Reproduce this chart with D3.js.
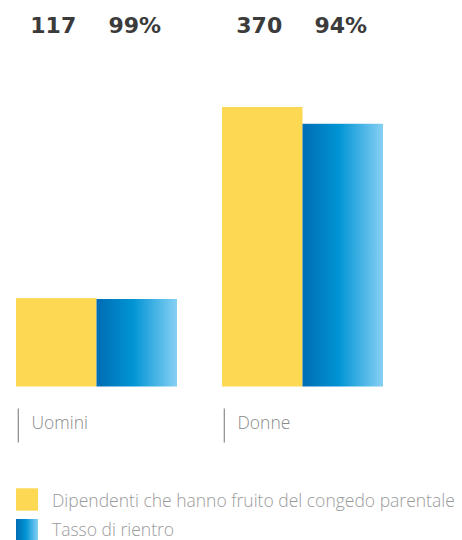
<!DOCTYPE html>
<html>
<head>
<meta charset="utf-8">
<script src="https://cdn.jsdelivr.net/npm/d3@7"></script>
<style>
  html, body { margin: 0; padding: 0; background: #fff; }
  svg { display: block; }
</style>
</head>
<body>
<svg id="chart" width="462" height="540"></svg>
<script>
// Parental leave: employees who took leave and return rate, by gender
const categories = ["Uomini", "Donne"];
const leaveCounts = [117, 370];          // Dipendenti che hanno fruito del congedo parentale
const returnRates = [99, 94];            // Tasso di rientro (%)
const seriesNames = ["Dipendenti che hanno fruito del congedo parentale", "Tasso di rientro"];

// Returners = leave takers × return rate, drawn on the same scale
const returners = leaveCounts.map((c, i) => c * returnRates[i] / 100);

const svg = d3.select("#chart");
const baseline = 386.5;

const defs = svg.append("defs");
const grad = defs.append("linearGradient")
  .attr("id", "blueGrad").attr("x1", "0%").attr("x2", "100%").attr("y1", "0%").attr("y2", "0%");
grad.append("stop").attr("offset", "0%").attr("stop-color", "#006cb4");
grad.append("stop").attr("offset", "45%").attr("stop-color", "#0094d4");
grad.append("stop").attr("offset", "100%").attr("stop-color", "#86d0f4");

const yellow = "#fdd853";

const x0 = d3.scaleBand().domain(categories).range([16, 383]).paddingInner(0.2184).paddingOuter(0);
const x1 = d3.scaleBand().domain(["count", "rate"]).range([0, x0.bandwidth()]).padding(0);
const y = d3.scaleLinear().domain([0, 370]).range([baseline, 107]);

const groups = svg.selectAll("g.group")
  .data(categories.map((c, i) => ({ cat: c, count: leaveCounts[i], ret: returners[i], rate: returnRates[i] })))
  .join("g")
  .attr("class", "group")
  .attr("transform", d => `translate(${x0(d.cat)},0)`);

groups.append("rect")
  .attr("x", x1("count")).attr("width", x1.bandwidth())
  .attr("y", d => y(d.count)).attr("height", d => y(0) - y(d.count))
  .attr("fill", yellow);

groups.append("rect")
  .attr("x", x1("rate")).attr("width", x1.bandwidth())
  .attr("y", d => y(d.ret)).attr("height", d => y(0) - y(d.ret))
  .attr("fill", "url(#blueGrad)");

// Value labels along the top
const valueFont = "'DejaVu Sans', sans-serif";
groups.append("text")
  .attr("x", x1("count") + x1.bandwidth() / 2 - 3).attr("y", 33)
  .attr("text-anchor", "middle")
  .style("font-family", valueFont).style("font-weight", "bold").style("font-size", "22px")
  .attr("fill", "#3b3b3b")
  .text(d => d.count);

groups.append("text")
  .attr("x", x1("rate") + x1.bandwidth() / 2 - 2).attr("y", 33)
  .attr("text-anchor", "middle")
  .style("font-family", valueFont).style("font-weight", "bold").style("font-size", "22px")
  .attr("fill", "#3b3b3b")
  .text(d => d.rate + "%");

// Category axis: short vertical marks with labels
const labelFont = "'Open Sans', 'Liberation Sans', Arial, sans-serif";
groups.append("line")
  .attr("x1", 2.3).attr("x2", 2.3).attr("y1", 408.5).attr("y2", 442.5)
  .attr("stroke", "#8a8a8a").attr("stroke-width", 1.2);

groups.append("text")
  .attr("x", 15.5).attr("y", 428.5)
  .style("font-family", labelFont).style("font-weight", 300).style("font-size", "17.5px").attr("fill", "#8a8a8a")
  .text(d => d.cat);

// Legend
const legend = svg.append("g").attr("class", "legend");
const legendItems = legend.selectAll("g")
  .data(seriesNames)
  .join("g")
  .attr("transform", (d, i) => `translate(16,${488.3 + i * 30.7})`);

legendItems.append("rect")
  .attr("width", 22).attr("height", 22.4)
  .attr("fill", (d, i) => i === 0 ? yellow : "url(#blueGrad)");

legendItems.append("text")
  .attr("x", 36).attr("y", (d, i) => 18.3 - i * 1.7)
  .style("font-family", labelFont).style("font-weight", 300).style("font-size", "17.5px").attr("fill", "#9a9a9a")
  .text(d => d);
</script>
</body>
</html>
